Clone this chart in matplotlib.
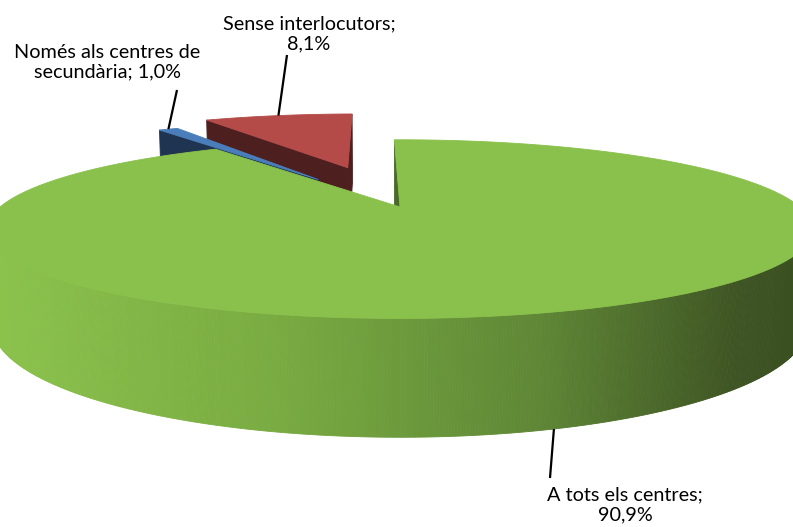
import numpy as np
import matplotlib
matplotlib.use("Agg")
import matplotlib.pyplot as plt
from matplotlib.patches import Polygon
from matplotlib.colors import LinearSegmentedColormap

# ---------------- data ----------------
categories = ["A tots els centres", "Només als centres de secundària", "Sense interlocutors"]
values = [90.9, 1.0, 8.1]
value_labels = ["90,9%", "1,0%", "8,1%"]

# ---------------- style / layout ----------------
explode = [0.0, 0.42, 0.55]
top_colors = ["#8AC14C", "#4A7EBB", "#B44B49"]
face_colors = ["#4A6A2A", "#1F3450", "#4D1F1F"]
wall_cmap = LinearSegmentedColormap.from_list(
    "wall", [(0.0, "#8BC24C"), (0.36, "#78AA41"), (0.68, "#5F8736"),
             (0.93, "#3E5423"), (1.0, "#3A5021")])

W, H = 793, 527
cx, cy = 400.0, 207.0          # screen position of pie centre
focal = 1580.0                 # perspective focal length (px)
dist = 3.95                    # camera distance in pie radii
elev = np.radians(12.1)        # camera elevation
thick = 0.236                  # pie thickness in radii
start_angle = -1.0             # degrees, clockwise from the back
se, ce = np.sin(elev), np.cos(elev)


def project(X, Y, Z):
    X, Y, Z = np.asarray(X, float), np.asarray(Y, float), np.asarray(Z, float)
    depth = dist - Y * se - Z * ce
    sx = cx + focal * X / depth
    sy = cy - focal * (Y * ce - Z * se) / depth
    return sx, sy, depth


def signed_area(xs, ys):
    ys = -np.asarray(ys)
    xs = np.asarray(xs)
    return 0.5 * np.sum(xs * np.roll(ys, -1) - np.roll(xs, -1) * ys)


fig = plt.figure(figsize=(W / 100, H / 100), dpi=100)
ax = fig.add_axes([0, 0, 1, 1])
ax.set_xlim(0, W)
ax.set_ylim(H, 0)
ax.axis("off")

total = float(sum(values))
bounds = start_angle + 360.0 * np.concatenate([[0], np.cumsum(values)]) / total

slices = []
for i, v in enumerate(values):
    t0, t1 = np.radians(bounds[i]), np.radians(bounds[i + 1])
    tm = 0.5 * (t0 + t1)
    ox, oz = explode[i] * np.sin(tm), -explode[i] * np.cos(tm)
    slices.append(dict(i=i, t0=t0, t1=t1, tm=tm, ox=ox, oz=oz))

slices.sort(key=lambda s: s["oz"])

anchors = {}
for s in slices:
    i = s["i"]
    n = max(8, int(np.degrees(s["t1"] - s["t0"]) * 3))
    th = np.linspace(s["t0"], s["t1"], n)
    rx = s["ox"] + np.sin(th)
    rz = s["oz"] - np.cos(th)
    tx, ty, td = project(rx, np.zeros_like(rx), rz)
    bx, by, bd = project(rx, -thick * np.ones_like(rx), rz)
    ax_t, ay_t, ad_t = project(s["ox"], 0.0, s["oz"])
    ax_b, ay_b, ad_b = project(s["ox"], -thick, s["oz"])

    parts = []
    for k in range(n - 1):
        px = [tx[k], tx[k + 1], bx[k + 1], bx[k]]
        py = [ty[k], ty[k + 1], by[k + 1], by[k]]
        if signed_area(px, py) > 0:
            if i == 0:
                col = wall_cmap(np.clip(np.mean(px) / W, 0, 1))
            else:
                col = face_colors[i]
            parts.append((np.mean(td[k:k + 2]), px, py, col))
    px = [float(ax_t), tx[0], bx[0], float(ax_b)]
    py = [float(ay_t), ty[0], by[0], float(ay_b)]
    if signed_area(px, py) > 0:
        parts.append((0.5 * (td[0] + ad_t), px, py, face_colors[i]))
    px = [float(ax_t), float(ax_b), bx[-1], tx[-1]]
    py = [float(ay_t), float(ay_b), by[-1], ty[-1]]
    if signed_area(px, py) > 0:
        parts.append((0.5 * (td[-1] + ad_t), px, py, face_colors[i]))

    parts.sort(key=lambda p: -p[0])
    for _, px, py, col in parts:
        ax.add_patch(Polygon(np.column_stack([px, py]), closed=True,
                             facecolor=col, edgecolor=col, linewidth=0.6))
    topx = np.concatenate([[float(ax_t)], tx])
    topy = np.concatenate([[float(ay_t)], ty])
    ax.add_patch(Polygon(np.column_stack([topx, topy]), closed=True,
                         facecolor=top_colors[i], edgecolor=top_colors[i],
                         linewidth=0.6))

    mx = s["ox"] + np.sin(s["tm"])
    mz = s["oz"] - np.cos(s["tm"])
    if i == 0:
        axp, ayp, _ = project(mx, -thick, mz)
    else:
        axp, ayp, _ = project(mx, 0.0, mz)
    anchors[i] = (float(axp), float(ayp))

# ---------------- labels ----------------
label_text = [
    "A tots els centres;\n" + value_labels[0],
    "Només als centres de\nsecundària; " + value_labels[1],
    "Sense interlocutors;\n" + value_labels[2],
]
label_pos = [(625, 505), (107, 62), (309, 34)]
leader_end = [(550, 478), (177, 90), (287, 55)]

for i in range(len(values)):
    ax.text(label_pos[i][0], label_pos[i][1], label_text[i], ha="center",
            va="center", fontsize=14.3, family="Lato", color="black",
            linespacing=1.2)
    x0, y0 = anchors[i]
    x1, y1 = leader_end[i]
    ax.plot([x0, x1], [y0, y1], color="black", linewidth=1.6,
            solid_capstyle="butt")

fig.savefig("out.png", dpi=100)
